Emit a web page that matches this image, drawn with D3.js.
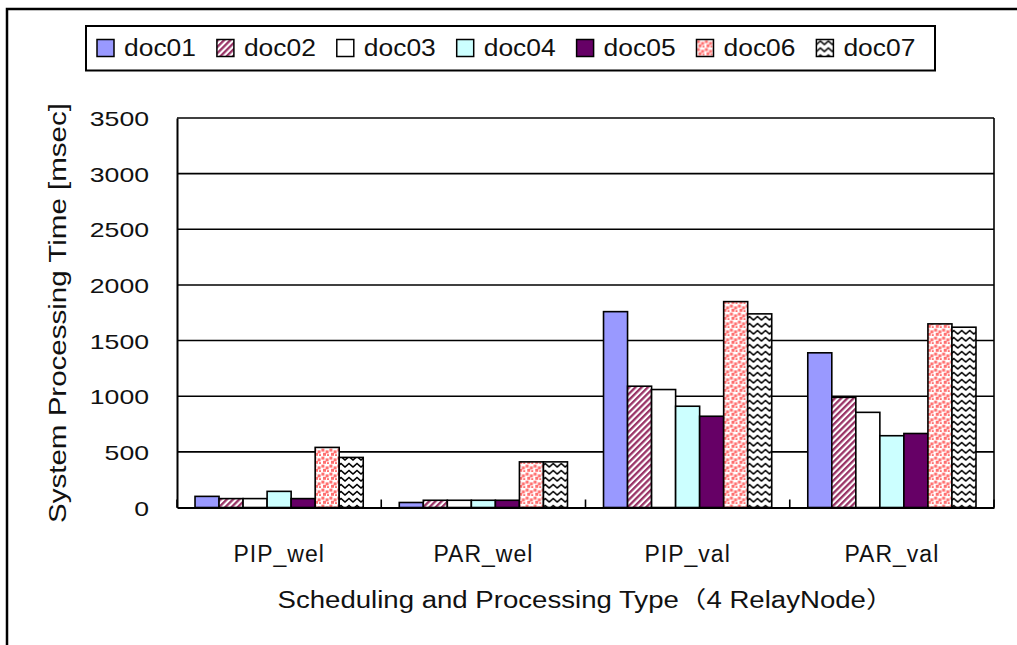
<!DOCTYPE html>
<html>
<head>
<meta charset="utf-8">
<script src="https://cdn.jsdelivr.net/npm/d3@7"></script>
<style>
  html, body { margin: 0; padding: 0; background: #fff; }
  svg { display: block; }
  text { font-family: "Liberation Sans", Arial, "Noto Sans CJK JP", sans-serif; fill: #111; }
</style>
</head>
<body>
<svg id="chart" width="1017" height="645"></svg>
<script>
// Processing time per document, by scheduling / processing type (msec)
const categories = ["PIP_wel", "PAR_wel", "PIP_val", "PAR_val"];
const seriesNames = ["doc01", "doc02", "doc03", "doc04", "doc05", "doc06", "doc07"];
const doc01 = [100, 45, 1760, 1390];
const doc02 = [80, 65, 1090, 990];
const doc03 = [80, 65, 1060, 855];
const doc04 = [145, 65, 910, 645];
const doc05 = [80, 65, 820, 665];
const doc06 = [540, 410, 1850, 1650];
const doc07 = [450, 410, 1740, 1620];
const yTicks = [0, 500, 1000, 1500, 2000, 2500, 3000, 3500];
const yTitle = "System Processing Time [msec]";
const xTitle = "Scheduling and Processing Type（4 RelayNode）";

const seriesValues = [doc01, doc02, doc03, doc04, doc05, doc06, doc07];
const table = categories.map((c, i) => ({
  category: c,
  values: seriesNames.map((s, j) => ({ series: s, value: seriesValues[j][i] }))
}));

const svg = d3.select("#chart");
const defs = svg.append("defs");

// Fill patterns
const stripes = defs.append("pattern").attr("id", "p-doc02")
  .attr("patternUnits", "userSpaceOnUse").attr("width", 4.4).attr("height", 4.4)
  .attr("patternTransform", "rotate(45)");
stripes.append("rect").attr("width", 4.4).attr("height", 4.4).attr("fill", "#fff");
stripes.append("rect").attr("width", 2.3).attr("height", 4.4).attr("fill", "#993366");

const confetti = defs.append("pattern").attr("id", "p-doc06")
  .attr("patternUnits", "userSpaceOnUse").attr("width", 8).attr("height", 8);
confetti.append("rect").attr("width", 8).attr("height", 8).attr("fill", "#fff");
[[0.4, 0.6], [4.6, 2.4], [2.0, 4.8], [6.0, 6.2]].forEach(([x, y]) =>
  confetti.append("rect").attr("x", x).attr("y", y).attr("width", 3).attr("height", 3).attr("fill", "#ff7070"));

const zigzag = defs.append("pattern").attr("id", "p-doc07")
  .attr("patternUnits", "userSpaceOnUse").attr("width", 8).attr("height", 7);
zigzag.append("rect").attr("width", 8).attr("height", 7).attr("fill", "#fff");
zigzag.append("path").attr("d", "M-1,5.5 L0,5 L4,1.5 L8,5 L9,5.5").attr("fill", "none")
  .attr("stroke", "#000").attr("stroke-width", 1.5);

const fills = {
  doc01: "#9999ff",
  doc02: "url(#p-doc02)",
  doc03: "#ffffff",
  doc04: "#ccffff",
  doc05: "#660066",
  doc06: "url(#p-doc06)",
  doc07: "url(#p-doc07)"
};

// Outer chart frame (extends past the right and bottom edges)
svg.append("path").attr("d", "M7,650 L7,9 L1030,9")
  .attr("fill", "none").attr("stroke", "#000").attr("stroke-width", 2.5);

// Plot area
const plot = { left: 177, right: 994, top: 118, bottom: 507.5 };

const x0 = d3.scaleBand().domain(categories).range([plot.left, plot.right]).padding(0);
const x1 = d3.scaleBand().domain(seriesNames).range([0, x0.bandwidth()])
  .paddingInner(0).paddingOuter(0.75);
const y = d3.scaleLinear().domain([0, 3500]).range([plot.bottom, plot.top]);

// Gridlines
svg.append("g").selectAll("line").data(yTicks.filter(t => t > 0)).join("line")
  .attr("x1", plot.left).attr("x2", plot.right)
  .attr("y1", d => y(d)).attr("y2", d => y(d))
  .attr("stroke", "#000").attr("stroke-width", 1.6);

// Plot border (right side)
svg.append("line").attr("x1", plot.right).attr("x2", plot.right)
  .attr("y1", plot.top).attr("y2", plot.bottom)
  .attr("stroke", "#000").attr("stroke-width", 1.6);

// Bars
const groups = svg.append("g").selectAll("g").data(table).join("g")
  .attr("transform", d => `translate(${x0(d.category)},0)`);
groups.selectAll("rect").data(d => d.values).join("rect")
  .attr("x", d => x1(d.series))
  .attr("y", d => y(d.value))
  .attr("width", x1.bandwidth())
  .attr("height", d => y(0) - y(d.value))
  .attr("fill", d => fills[d.series])
  .attr("stroke", "#000").attr("stroke-width", 1.6);

// Y axis
const yAxis = svg.append("g").attr("transform", `translate(${plot.left},0)`)
  .call(d3.axisLeft(y).tickValues(yTicks).tickSize(0).tickPadding(30).tickFormat(d3.format("d")));
yAxis.select(".domain").attr("stroke", "#000").attr("stroke-width", 2);
yAxis.selectAll(".tick text")
  .attr("font-size", 21)
  .attr("x", -28)
  .attr("dy", "0.36em")
  .attr("fill", "#111")
  .attr("lengthAdjust", "spacingAndGlyphs")
  .attr("textLength", function (d) { return String(d).length * 14.8; })
  .style("font-family", "'Liberation Sans', Arial, sans-serif");

// X axis: inward ticks at category boundaries
const xAxis = svg.append("g").attr("transform", `translate(0,${plot.bottom})`)
  .call(d3.axisBottom(x0).tickSize(0).tickPadding(0));
xAxis.select(".domain").attr("stroke", "#000").attr("stroke-width", 2.2);
xAxis.selectAll(".tick text")
  .attr("font-size", 23)
  .attr("letter-spacing", 1)
  .attr("y", 46)
  .attr("dy", "0.35em")
  .attr("fill", "#111")
  .style("font-family", "'Liberation Sans', Arial, sans-serif");
const boundaries = categories.map(c => x0(c)).concat([plot.right]);
svg.append("g").selectAll("line").data(boundaries).join("line")
  .attr("x1", d => d).attr("x2", d => d)
  .attr("y1", plot.bottom - 8).attr("y2", plot.bottom)
  .attr("stroke", "#000").attr("stroke-width", 1.6);

// Axis titles
svg.append("text")
  .attr("x", (plot.left + plot.right) / 2).attr("y", 600)
  .attr("dy", "0.35em")
  .attr("text-anchor", "middle")
  .attr("font-size", 23)
  .attr("lengthAdjust", "spacingAndGlyphs")
  .attr("textLength", 616)
  .text(xTitle);

svg.append("text")
  .attr("transform", "translate(58,313) rotate(-90)")
  .attr("dy", "0.35em")
  .attr("text-anchor", "middle")
  .attr("font-size", 23)
  .attr("lengthAdjust", "spacingAndGlyphs")
  .attr("textLength", 420)
  .text(yTitle);

// Legend
const legend = svg.append("g");
legend.append("rect").attr("x", 86).attr("y", 26).attr("width", 849).attr("height", 44.5)
  .attr("fill", "#fff").attr("stroke", "#000").attr("stroke-width", 2);
const item = legend.selectAll("g.item").data(seriesNames).join("g")
  .attr("class", "item")
  .attr("transform", (d, i) => `translate(${97 + i * 119.9},39.5)`);
item.append("rect").attr("width", 17).attr("height", 17)
  .attr("fill", d => fills[d]).attr("stroke", "#000").attr("stroke-width", 1.5);
item.append("text")
  .attr("x", 27).attr("y", 8.5).attr("dy", "0.36em")
  .attr("font-size", 23)
  .attr("lengthAdjust", "spacingAndGlyphs")
  .attr("textLength", 72)
  .text(d => d);
</script>
</body>
</html>
